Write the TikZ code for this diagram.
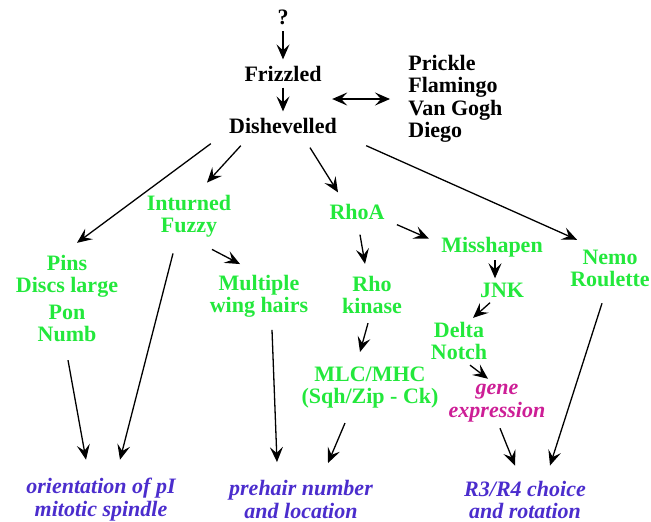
\documentclass[tikz,border=0pt]{standalone}
\usepackage{fontspec}
\setmainfont{Liberation Serif}
\usetikzlibrary{arrows.meta,calc}
\definecolor{protgreen}{RGB}{35,232,60}
\definecolor{phenoblue}{RGB}{75,45,205}
\definecolor{exprmag}{RGB}{205,30,150}

\begin{document}
\begin{tikzpicture}[x=0.5pt,y=-0.5pt,
    >={Stealth[length=7.5pt,width=6.5pt,inset=3pt]},
    every node/.style={font=\bfseries\fontsize{11}{11}\selectfont, inner sep=3pt, align=center},
    prot/.style={text=protgreen},
    pheno/.style={text=phenoblue, font=\bfseries\itshape\fontsize{11}{11.3}\selectfont},
    arr/.style={->, line width=0.65pt}]

\useasboundingbox (0,0) rectangle (651,521);

\node (q) at (283,17.5) {?};
\node (friz) at (283,73.5) {Frizzled};
\node (dish) at (283,125.5) {Dishevelled};
\node[anchor=west, align=left, font=\bfseries\fontsize{11}{11.25}\selectfont] (prick) at (402,99)
    {Prickle\\Flamingo\\Van Gogh\\Diego};

\node[prot] (intu) at (189,216) {Inturned\\Fuzzy};
\node[prot] (pins) at (67,298.5) {Pins\\Discs large\\[2.5pt]Pon\\Numb};
\node[prot] (mult) at (259,296.5) {Multiple\\wing hairs};
\node[prot] (rhoa) at (357,211.5) {RhoA};
\node[prot] (missh) at (492,247) {Misshapen};
\node[prot] (nemo) at (610,268.5) {Nemo\\Roulette};
\node[prot] (rhok) at (372,295) {Rho\\kinase};
\node[prot] (jnk) at (502,290) {JNK};
\node[prot] (delta) at (459,341) {Delta\\Notch};
\node[prot] (mlc) at (370,388) {MLC/MHC\\(Sqh/Zip - Ck)};
\node[pheno, text=exprmag] (gene) at (497,403) {gene\\expression};

\node[pheno] (orient) at (101,499.5) {orientation of pI\\mitotic spindle};
\node[pheno] (prehair) at (301,499.5) {prehair number\\and location};
\node[pheno] (rchoice) at (525,500) {R3/R4 choice\\and rotation};

\draw[arr] (q) -- (friz);
\draw[arr] (friz) -- (dish);
\draw[<->, line width=0.65pt] ($(dish.east |- prick.west)+(-11,0)$) -- ($(prick.west)+(-12,0)$);

\draw[arr] ([shift={(-12,4)}]dish.south west) -- ([shift={(10,-6)}]pins.north);
\draw[arr] ([shift={(18,6)}]dish.south west) -- ([shift={(18,-6)}]intu.north);
\draw[arr] ([shift={(27,8)}]dish.south) -- ([shift={(-19,-5)}]rhoa.north);
\draw[arr] ([shift={(23,6)}]dish.south east) -- ([shift={(-33,-4)}]nemo.north);

\draw[arr] ([shift={(23,6)}]intu.south) -- ([shift={(-19,-5)}]mult.north);
\draw[arr] ([shift={(-16,10)}]intu.south) -- ([shift={(19,-12)}]orient.north);
\draw[arr] ([shift={(1,12)}]pins.south) -- ([shift={(-15,-12)}]orient.north);
\draw[arr] ([shift={(13,6)}]mult.south) -- ([shift={(-24,-12)}]prehair.north);
\draw[arr] ([shift={(-25,8)}]mlc.south) -- ([shift={(27,-11)}]prehair.north);

\draw[arr] ([shift={(6,-1)}]rhoa.south east) -- ([shift={(-6,8)}]missh.north west);
\draw[arr] ([shift={(3,9)}]rhoa.south) -- ([shift={(-7,-6)}]rhok.north);
\draw[arr] ([shift={(-4,3)}]rhok.south) -- ([shift={(-10,-9)}]mlc.north);
\draw[arr] ([shift={(3,-3)}]missh.south) -- ([shift={(-7,2)}]jnk.north);
\draw[arr] ([shift={(-12,-1)}]jnk.south) -- ([shift={(14,2)}]delta.north);
\draw[arr] ([shift={(11,-1)}]delta.south) -- ([shift={(-9,1)}]gene.north);
\draw[arr] ([shift={(3,0)}]gene.south) -- ([shift={(-10,-9)}]rchoice.north);
\draw[arr] ([shift={(-8,10)}]nemo.south) -- ([shift={(25,-9)}]rchoice.north);

\end{tikzpicture}
\end{document}
